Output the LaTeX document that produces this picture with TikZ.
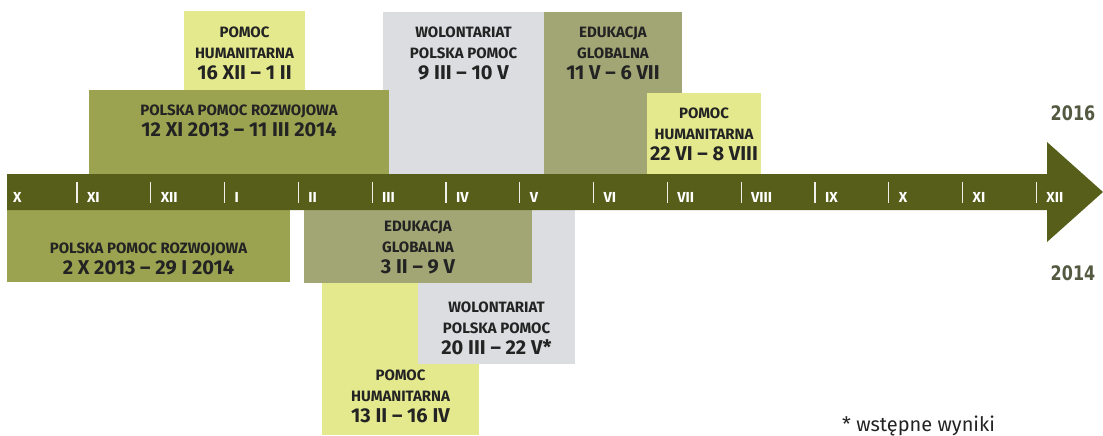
\documentclass[tikz,border=0pt]{standalone}
\usepackage{fontspec}
\setmainfont{Fira Sans}
\newfontfamily\yearfont{DejaVu Sans}[FakeStretch=0.8]
\usetikzlibrary{positioning}

\definecolor{band}{RGB}{86,94,26}
\definecolor{rozw}{RGB}{155,163,80}
\definecolor{hum}{RGB}{228,233,142}
\definecolor{wol}{RGB}{220,221,224}
\definecolor{edu}{RGB}{161,166,116}
\definecolor{ink}{RGB}{35,35,35}
\definecolor{yearc}{RGB}{84,90,66}

\tikzset{
  box/.style={inner sep=0pt, outer sep=0pt, anchor=north west},
  lbl/.style={inner sep=0pt, align=center, text=ink, font=\fontsize{15}{21}\selectfont\bfseries},
  month/.style={inner sep=0pt, anchor=west, text=white, font=\fontsize{14.5}{14.5}\selectfont\bfseries},
  year/.style={inner sep=0pt, text=yearc, font=\fontsize{20}{20}\selectfont\yearfont\bfseries}
}
\newcommand{\dt}[1]{{\fontsize{20}{21}\selectfont #1}}

\begin{document}
\begin{tikzpicture}[x=1pt, y=-1pt]
  \useasboundingbox (0,0) rectangle (1103,436);

  % 2014 / 2015 above the axis
  \node [box, fill=wol, minimum width=161pt, minimum height=162pt] (wolT) at (383,12) {};
  \node [box, fill=edu, minimum width=138pt, minimum height=162pt] (eduT) at (544,12) {};
  \node [box, fill=hum, minimum width=121pt, minimum height=79pt] (humT) at (184,11) {};
  \node [box, fill=rozw, minimum width=300pt, minimum height=84pt] (rozwT) at (89,90) {};
  \node [box, fill=hum, minimum width=114pt, minimum height=81pt] (humR) at (647,93) {};

  % below the axis
  \node [box, fill=rozw, minimum width=283pt, minimum height=72pt] (rozwB) at (7,210) {};
  \node [box, fill=hum, minimum width=157pt, minimum height=152pt] (humB) at (322,283) {};
  \node [box, fill=wol, minimum width=157pt, minimum height=154pt] (wolB) at (418,210) {};
  \node [box, fill=edu, minimum width=228pt, minimum height=73pt] (eduB) at (304,210) {};

  % labels
  \node [lbl, below=16pt of humT.north] (humTt) {POMOC\\HUMANITARNA\\\dt{16 XII – 1 II}};
  \node [lbl, below=15pt of rozwT.north] (rozwTt) {POLSKA POMOC ROZWOJOWA\\\dt{12 XI 2013 – 11 III 2014}};
  \node [lbl, below=15pt of wolT.north] (wolTt) {WOLONTARIAT\\POLSKA POMOC\\\dt{9 III – 10 V}};
  \node [lbl, below=15pt of eduT.north] (eduTt) {EDUKACJA\\GLOBALNA\\\dt{11 V – 6 VII}};
  \node [lbl, below=15pt of humR.north] (humRt) {POMOC\\HUMANITARNA\\\dt{22 VI – 8 VIII}};

  \node [lbl, above=7pt of rozwB.south] (rozwBt) {POLSKA POMOC ROZWOJOWA\\\dt{2 X 2013 – 29 I 2014}};
  \node [lbl, above=9pt of eduB.south] (eduBt) {EDUKACJA\\GLOBALNA\\\dt{3 II – 9 V}};
  \node [lbl, above=9pt of wolB.south] (wolBt) {WOLONTARIAT\\POLSKA POMOC\\\dt{20 III – 22 V*}};
  \node [lbl, above=12pt of humB.south] (humBt) {POMOC\\HUMANITARNA\\\dt{13 II – 16 IV}};

  % time axis
  \fill [band] (7,174) -- (1047,174) -- (1047,142) -- (1103,192) -- (1047,242) -- (1047,210) -- (7,210) -- cycle;
  \foreach \m [count=\i from 0] in {X,XI,XII,I,II,III,IV,V,VI,VII,VIII,IX,X,XI,XII}
    \node [month] (m\i) at ({13+73.8*\i},197) {\m};
  \foreach \i in {1,...,14}
    \draw [white!90!band, line width=1.3pt] ({3.2+73.8*\i},182) -- ({3.2+73.8*\i},203);

  \node [year] (y16) at (1073,113) {2016};
  \node [year] (y14) at (1073,273) {2014};

  \node [inner sep=0pt, anchor=west, text=ink, font=\fontsize{20}{20}\selectfont] (note) at (842,426) {* wstępne wyniki};
\end{tikzpicture}
\end{document}
